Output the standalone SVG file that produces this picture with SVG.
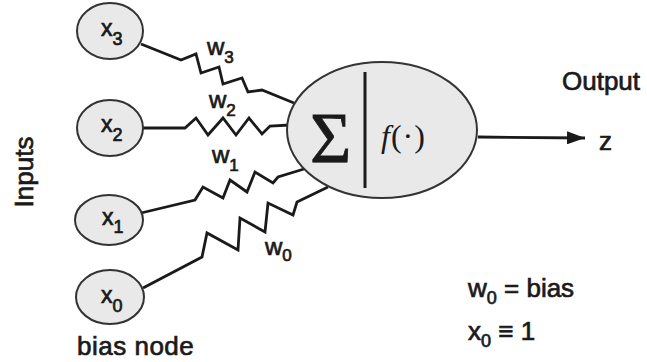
<svg xmlns="http://www.w3.org/2000/svg" width="647" height="362" viewBox="0 0 647 362">
<defs>
<style>
.node{fill:#e9e9e9;stroke:#333;stroke-width:2}
.wire{fill:none;stroke:#1a1a1a;stroke-width:2.8;stroke-linejoin:miter}
.t{font-family:"Liberation Sans",Arial,sans-serif;fill:#1a1a1a;stroke:#1a1a1a;stroke-width:0.7}
.lbl{font-size:23px}
.sub{font-size:18px}
.wl{font-size:24px}
.wsub{font-size:17px}
.big{font-size:26px}
</style>
<marker id="arrow" viewBox="0 0 18 13" refX="18" refY="6.5" markerWidth="18" markerHeight="13" markerUnits="userSpaceOnUse" orient="auto">
<path d="M0,0 L18,6.5 L0,13 Z" fill="#1a1a1a"/>
</marker>
</defs>
<rect width="647" height="362" fill="#ffffff"/>

<g id="connectors">
<path class="wire" d="M141,44 L181,60 L196,54 L201,73 L219,67 L223,84 L242,78 L248,92 L262,90 L294,103"/>
<path class="wire" d="M143,128 L185,128 L196,118 L208,135 L223,118 L236,135 L249,118 L262,134 L270,126 L290,125"/>
<path class="wire" d="M141,213 L195,200 L203,187 L223,198 L230,180 L247,192 L255,172 L273,183 L278,177 L304,169"/>
<path class="wire" d="M143,288 L202,257 L207,233 L238,250 L240,218 L265,232 L268,203 L293,215 L297,202 L328,187"/>
<line class="wire" x1="478" y1="137" x2="585" y2="138" marker-end="url(#arrow)"/>
</g>

<g id="node-x3">
<ellipse class="node" cx="110" cy="31" rx="33" ry="28"/>
<text class="t lbl" x="101" y="36">x<tspan class="sub" dy="9">3</tspan></text>
</g>
<g id="node-x2">
<ellipse class="node" cx="110" cy="128" rx="33" ry="28"/>
<text class="t lbl" x="101" y="132">x<tspan class="sub" dy="9">2</tspan></text>
</g>
<g id="node-x1">
<ellipse class="node" cx="109" cy="220" rx="34" ry="25"/>
<text class="t lbl" x="102" y="225">x<tspan class="sub" dy="8">1</tspan></text>
</g>
<g id="node-x0">
<ellipse class="node" cx="110" cy="297" rx="34" ry="27"/>
<text class="t lbl" x="101" y="303">x<tspan class="sub" dy="9">0</tspan></text>
</g>

<g id="node-neuron">
<ellipse class="node" cx="382" cy="130" rx="95" ry="68"/>
<line x1="365" y1="72" x2="365" y2="188" stroke="#1a1a1a" stroke-width="3"/>
<text x="310" y="162" font-family="Liberation Serif,'Times New Roman',serif" font-size="71" fill="#1a1a1a" stroke="#1a1a1a" stroke-width="0.8">Σ</text>
<text x="381" y="147" font-family="Liberation Serif,'Times New Roman',serif" font-size="32" fill="#1a1a1a" letter-spacing="1"><tspan font-style="italic">f</tspan>(·)</text>
</g>

<g id="weight-labels">
<text class="t wl" x="207" y="55">w<tspan class="wsub" dy="8">3</tspan></text>
<text class="t wl" x="209" y="108">w<tspan class="wsub" dy="8">2</tspan></text>
<text class="t wl" x="212" y="163">w<tspan class="wsub" dy="8">1</tspan></text>
<text class="t wl" x="265" y="255">w<tspan class="wsub" dy="6">0</tspan></text>
</g>

<g id="labels">
<text class="t big" x="33" y="172" text-anchor="middle" transform="rotate(-90 33 172)">Inputs</text>
<text class="t big" x="562" y="90">Output</text>
<text class="t big" x="599" y="150">z</text>
<text class="t big" x="77" y="355" letter-spacing="0.5">bias node</text>
<text class="t big" x="468" y="297">w<tspan font-size="18" dy="7">0</tspan><tspan dy="-7"> = bias</tspan></text>
<text class="t big" x="468" y="340">x<tspan font-size="18" dy="7">0</tspan><tspan dy="-7"> ≡  1</tspan></text>
</g>
</svg>
